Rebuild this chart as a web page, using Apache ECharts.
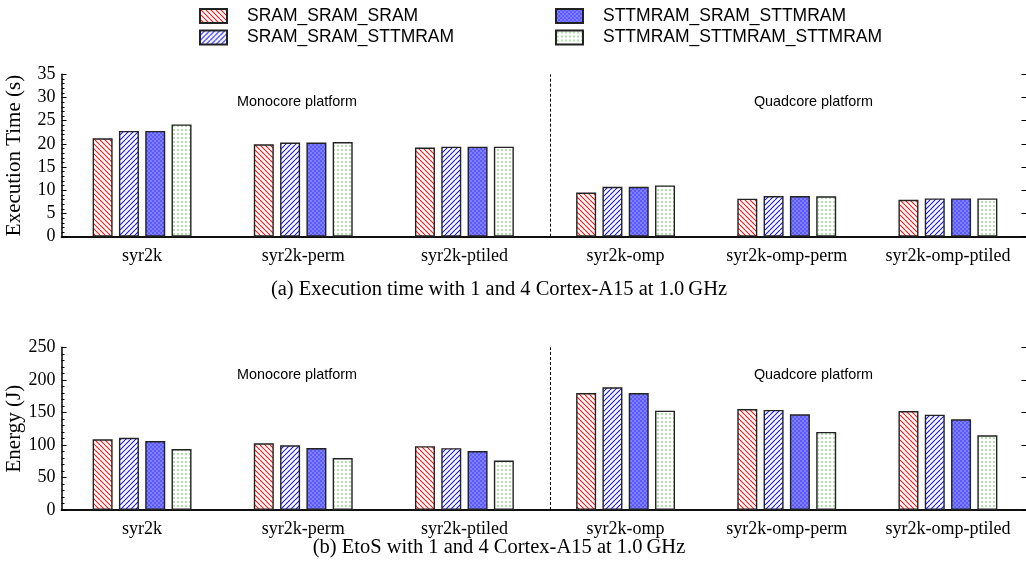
<!DOCTYPE html>
<html>
<head>
<meta charset="utf-8">
<script src="https://cdn.jsdelivr.net/npm/echarts@6/dist/echarts.min.js"></script>
<style>html,body{margin:0;padding:0;background:#fff}#c{width:1026px;height:571px}</style>
</head>
<body>
<div id="c"></div>
<script>
const categories = ['syr2k','syr2k-perm','syr2k-ptiled','syr2k-omp','syr2k-omp-perm','syr2k-omp-ptiled'];
const seriesNames = ['SRAM_SRAM_SRAM','SRAM_SRAM_STTMRAM','STTMRAM_SRAM_STTMRAM','STTMRAM_STTMRAM_STTMRAM'];
const time_SRAM_SRAM_SRAM          = [21.2, 19.9, 19.2, 9.5, 8.2, 7.95];
const time_SRAM_SRAM_STTMRAM       = [22.8, 20.3, 19.4, 10.75, 8.75, 8.25];
const time_STTMRAM_SRAM_STTMRAM    = [22.8, 20.3, 19.4, 10.75, 8.75, 8.25];
const time_STTMRAM_STTMRAM_STTMRAM = [24.2, 20.4, 19.4, 11.05, 8.7, 8.25];
const energy_SRAM_SRAM_SRAM          = [108.6, 102.5, 98, 179.8, 155.2, 152.1];
const energy_SRAM_SRAM_STTMRAM       = [111, 99.4, 95, 188.5, 153.7, 146.5];
const energy_STTMRAM_SRAM_STTMRAM    = [106, 95.3, 90.5, 179.8, 147, 139.3];
const energy_STTMRAM_STTMRAM_STTMRAM = [93.7, 79.9, 76, 152.6, 119.9, 114.8];
const timeTicks = {min: 0, max: 35, interval: 5};
const energyTicks = {min: 0, max: 250, interval: 50};
const panelNotes = ['Monocore platform', 'Quadcore platform'];
const captions = ['(a) Execution time with 1 and 4 Cortex-A15 at 1.0\u2009GHz', '(b) EtoS with 1 and 4 Cortex-A15 at 1.0\u2009GHz'];
const separatorPos = 3.03;

function makeCanvas(w, h, draw) {
  const c = document.createElement('canvas');
  c.width = w; c.height = h;
  const g = c.getContext('2d');
  draw(g, w, h);
  return c;
}
const patRed = makeCanvas(5, 5, (g, w, h) => {
  g.fillStyle = '#fff'; g.fillRect(0, 0, w, h);
  g.strokeStyle = '#ff1010'; g.lineWidth = 1.1;
  for (let k = -1; k <= 1; k++) { g.beginPath(); g.moveTo(k * w, 0); g.lineTo(k * w + w, h); g.stroke(); }
});
const patBlue = makeCanvas(5, 5, (g, w, h) => {
  g.fillStyle = '#fff'; g.fillRect(0, 0, w, h);
  g.strokeStyle = '#1010ff'; g.lineWidth = 1.1;
  for (let k = -1; k <= 1; k++) { g.beginPath(); g.moveTo(k * w, h); g.lineTo(k * w + w, 0); g.stroke(); }
});
const patSolid = makeCanvas(4, 4, (g, w, h) => {
  g.fillStyle = '#8080ff'; g.fillRect(0, 0, w, h);
  g.fillStyle = '#5a5aff'; g.fillRect(0, 0, 2, 2); g.fillRect(2, 2, 2, 2);
});
const patGreen = makeCanvas(4, 4, (g, w, h) => {
  g.fillStyle = '#fff'; g.fillRect(0, 0, w, h);
  g.fillStyle = '#b6dfb0'; g.fillRect(1, 1, 2, 2);
});
const patterns = [patRed, patBlue, patSolid, patGreen];

const timeData = [time_SRAM_SRAM_SRAM, time_SRAM_SRAM_STTMRAM, time_STTMRAM_SRAM_STTMRAM, time_STTMRAM_STTMRAM_STTMRAM];
const energyData = [energy_SRAM_SRAM_SRAM, energy_SRAM_SRAM_STTMRAM, energy_STTMRAM_SRAM_STTMRAM, energy_STTMRAM_STTMRAM_STTMRAM];

const SERIF = '"Liberation Serif", "DejaVu Serif", serif';
const SANS = '"Liberation Sans", Arial, sans-serif';

const grids = [
  {left: 61.5, right: -2.5, top: 74.3, height: 162.4, containLabel: false, outerBoundsMode: 'none'},
  {left: 61.5, right: -2.5, top: 347.3, height: 162.7, containLabel: false, outerBoundsMode: 'none'}
];
const xAxes = [], yAxes = [], series = [];
const yNames = ['Execution Time (s)', 'Energy (J)'];
const ticks = [timeTicks, energyTicks];
const labelMargins = [11, 10];
[0, 1].forEach(gi => {
  xAxes.push({
    type: 'category', gridIndex: gi, data: categories, position: 'bottom',
    axisLine: {show: true, lineStyle: {color: '#000', width: 1.5}},
    axisTick: {show: false},
    axisLabel: {interval: 0, fontFamily: SERIF, fontSize: 18, color: '#000', margin: labelMargins[gi]}
  });
  xAxes.push({
    type: 'value', gridIndex: gi, min: 0, max: 6, position: 'top',
    axisLine: {show: true, lineStyle: {color: '#000', width: 1.5}},
    axisTick: {show: false}, axisLabel: {show: false}, splitLine: {show: false}
  });
  yAxes.push({
    type: 'value', gridIndex: gi, min: ticks[gi].min, max: ticks[gi].max, interval: ticks[gi].interval,
    position: 'left',
    name: yNames[gi], nameLocation: 'middle', nameGap: 37, nameMoveOverlap: false,
    nameTextStyle: {fontFamily: SERIF, fontSize: 21, color: '#000'},
    axisLine: {show: true, lineStyle: {color: '#000', width: 1.5}},
    axisTick: {show: true, inside: true, length: 5, lineStyle: {color: '#000'}},
    minorTick: {show: true, splitNumber: 5, length: 3, lineStyle: {color: '#000'}},
    axisLabel: {fontFamily: SERIF, fontSize: 18, color: '#000', margin: 6},
    splitLine: {show: false}
  });
  yAxes.push({
    type: 'value', gridIndex: gi, min: ticks[gi].min, max: ticks[gi].max, interval: ticks[gi].interval,
    position: 'right',
    axisLine: {show: false},
    axisTick: {show: true, inside: true, length: 7, lineStyle: {color: '#000'}},
    axisLabel: {show: false}, splitLine: {show: false}
  });
  const data = gi === 0 ? timeData : energyData;
  seriesNames.forEach((nm, si) => {
    series.push({
      name: nm, type: 'bar', xAxisIndex: gi * 2, yAxisIndex: gi * 2,
      data: data[si], barWidth: 20, barGap: '31.5%',
      itemStyle: {color: {image: patterns[si], repeat: 'repeat'}, borderColor: '#222', borderWidth: 1.4},
      emphasis: {disabled: true}, animation: false
    });
  });
  series.push({
    type: 'line', xAxisIndex: gi * 2 + 1, yAxisIndex: gi * 2, data: [], silent: true,
    markLine: {
      silent: true, symbol: ['none', 'none'], label: {show: false},
      lineStyle: {color: '#000', type: [3, 2], width: 1},
      data: [{xAxis: separatorPos}]
    }
  });
});

const legendPos = [[199, 7], [199, 28.5], [555, 7], [555, 28.5]];
const legends = seriesNames.map((nm, i) => ({
  data: [nm], left: legendPos[i][0], top: legendPos[i][1], padding: 0,
  icon: 'rect', itemWidth: 27, itemHeight: 14, selectedMode: false,
  textStyle: {fontFamily: SANS, fontSize: 17.5, color: '#000', padding: [0, 0, 0, 15]}
}));

const graphic = [];
[[297, 102], [813.5, 102]].forEach((p, i) => graphic.push({type: 'text', x: p[0], y: p[1], style: {text: panelNotes[i], fontFamily: SANS, fontSize: 14.4, fill: '#000', align: 'center', verticalAlign: 'middle'}}));
[[297, 375], [813.5, 375]].forEach((p, i) => graphic.push({type: 'text', x: p[0], y: p[1], style: {text: panelNotes[i], fontFamily: SANS, fontSize: 14.4, fill: '#000', align: 'center', verticalAlign: 'middle'}}));
[[499, 290], [499, 548]].forEach((p, i) => graphic.push({type: 'text', x: p[0], y: p[1], style: {text: captions[i], fontFamily: SERIF, fontSize: 20.5, fill: '#000', align: 'center', verticalAlign: 'middle'}}));

const chart = echarts.init(document.getElementById('c'), null, {renderer: 'canvas'});
chart.setOption({
  animation: false,
  backgroundColor: '#fff',
  grid: grids,
  xAxis: xAxes,
  yAxis: yAxes,
  legend: legends,
  series: series,
  graphic: graphic
});
</script>
</body>
</html>
